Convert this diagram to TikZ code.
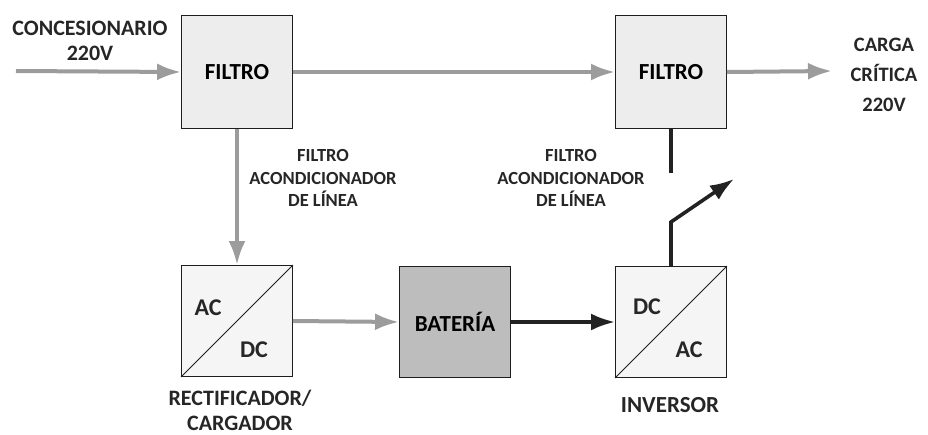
\documentclass[tikz,border=0pt]{standalone}
\usepackage{fontspec}
\setmainfont{Carlito}
\usetikzlibrary{arrows.meta,positioning}
\definecolor{boxline}{HTML}{1E1E1E}
\definecolor{feed}{HTML}{9C9C9C}
\definecolor{dcline}{HTML}{222222}
\definecolor{filtfill}{HTML}{EDEDED}
\definecolor{convfill}{HTML}{F5F5F5}
\definecolor{batfill}{HTML}{BDBDBD}
\tikzset{
 blk/.style={draw=boxline,line width=0.9pt,minimum width=111pt,minimum height=111pt,inner sep=0pt,font=\fontsize{23}{25}\selectfont\bfseries},
 filt/.style={blk,fill=filtfill,minimum height=113pt},
 conv/.style={blk,fill=convfill},
 bat/.style={blk,fill=batfill},
 txt/.style={align=center,inner sep=0pt,font=\fontsize{22}{25}\selectfont\bfseries,text=black!85},
 lbl/.style={align=center,inner sep=0pt,font=\fontsize{18.5}{22.5}\selectfont\bfseries,text=black!85},
 arr/.style={-{Latex[length=24pt,width=17pt]},line width=4pt,draw=feed},
 arrd/.style={-{Latex[length=24pt,width=17pt]},line width=3.6pt,draw=dcline},
 wire/.style={line width=3.2pt,draw=dcline}}

\begin{document}
\begin{tikzpicture}[x=1pt,y=-1pt]
\useasboundingbox (0,0) rectangle (928,434);
\node[filt] (filtA) at (237,72) {FILTRO};
\node[filt] (filtB) at (671,72) {FILTRO};
\node[conv] (rect) at (237,321) {};
\node[bat] (bat) at (455,322) {BATERÍA};
\node[conv] (inv) at (671,322) {};

\draw[boxline,line width=0.9pt] (rect.south west) -- (rect.north east);
\draw[boxline,line width=0.9pt] (inv.south west) -- (inv.north east);
\node[txt,font=\fontsize{24}{25}\selectfont\bfseries] at (208,308) {AC};
\node[txt,font=\fontsize{24}{25}\selectfont\bfseries] at (254,350) {DC};
\node[txt,font=\fontsize{24}{25}\selectfont\bfseries] at (647,307) {DC};
\node[txt,font=\fontsize{24}{25}\selectfont\bfseries] at (689,350) {AC};

\node[txt] (src) at (90,41) {CONCESIONARIO\\220V};
\node[txt,font=\fontsize{20.5}{30}\selectfont\bfseries] (load) at (884,75) {CARGA\\CRÍTICA\\220V};
\node[lbl] (lineA) at (323,178) {FILTRO\\ACONDICIONADOR\\DE LÍNEA};
\node[lbl] (lineB) at (571,178) {FILTRO\\ACONDICIONADOR\\DE LÍNEA};
\node[txt] (rectname) at (240,410) {RECTIFICADOR/\\CARGADOR};
\node[txt,font=\fontsize{23}{25}\selectfont\bfseries] (invname) at (670,405) {INVERSOR};

\coordinate (in) at (16,71);
\coordinate (out) at (832,71);
\coordinate (swA) at (671,173);
\coordinate (swB) at (671,222);
\coordinate (swC) at (734,179);

\draw[arr] (in) -- (filtA.west);
\draw[arr] (filtA.east) -- (filtB.west);
\draw[arr] (filtB.east) -- (out);
\draw[arr] (filtA.south) -- (rect.north);
\draw[arr] (rect.east) -- (bat.west);
\draw[arrd] (bat.east) -- (inv.west);
\draw[wire] (filtB.south) -- (swA);
\draw[arrd] (inv.north) -- (swB) -- (swC);
\end{tikzpicture}
\end{document}
